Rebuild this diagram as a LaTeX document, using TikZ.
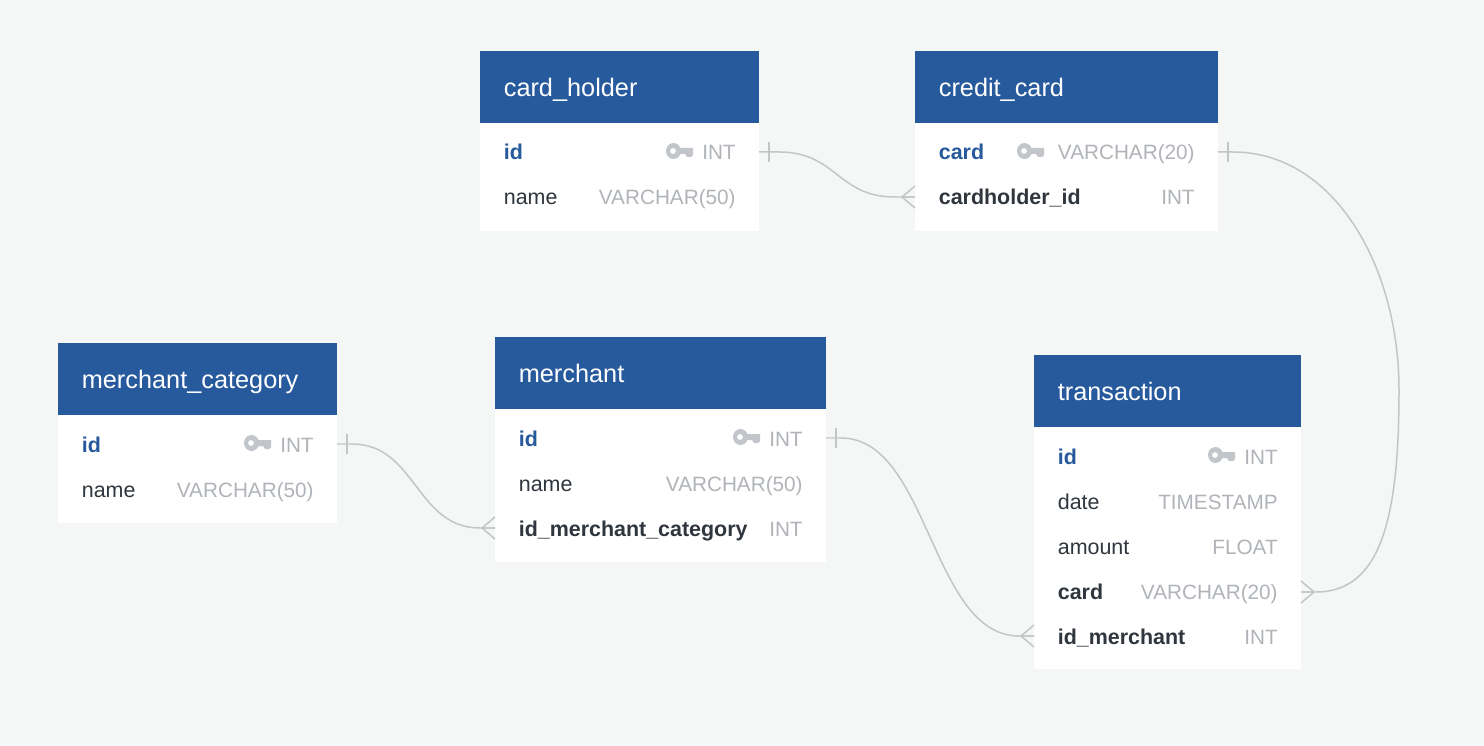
\documentclass[tikz,border=0pt]{standalone}
\usepackage{fontspec}
\setmainfont{Liberation Sans}
\usetikzlibrary{calc,positioning}
\definecolor{cBack}{RGB}{245,247,246}
\definecolor{cHead}{RGB}{38,90,156}
\definecolor{cName}{RGB}{47,54,61}
\definecolor{cType}{RGB}{176,180,185}
\definecolor{cKey}{RGB}{194,197,201}
\definecolor{cLine}{RGB}{196,198,198}
\tikzset{
  tablehead/.style={fill=cHead,anchor=north west,inner sep=0pt},
  tablebody/.style={fill=white,anchor=north west,inner sep=0pt},
  titletext/.style={text=white,anchor=base west,inner sep=0pt,font=\fontsize{14.4pt}{16pt}\selectfont},
  fieldkey/.style={text=cHead,anchor=base west,inner sep=0pt,font=\fontsize{12.2pt}{14pt}\selectfont\bfseries},
  fieldname/.style={text=cName,anchor=base west,inner sep=0pt,font=\fontsize{12.2pt}{14pt}\selectfont},
  fieldref/.style={fieldname,font=\fontsize{12.2pt}{14pt}\selectfont\bfseries},
  fieldtype/.style={text=cType,anchor=base east,inner sep=0pt,font=\fontsize{11.8pt}{14pt}\selectfont},
  relline/.style={cLine,line width=0.85pt},
}
% key icon, x = left end, y = centre
\newcommand{\keyicon}[2]{%
  \begin{scope}[shift={(#1,#2)}]
    \fill[cKey,even odd rule] (7.5,-1) ellipse (7.5 and 8) (7,-1) circle (3);
    \fill[cKey] (13,-4) -- (27,-4) -- (27,3) -- (25,5) -- (21,5) -- (19,2) -- (13,2) -- cycle;
  \end{scope}}
% one end of a relation
\newcommand{\onebar}[1]{\draw[relline] ($(#1)+(10,-10)$) -- ($(#1)+(10,10)$);}
\newcommand{\crowleft}[1]{\draw[relline] ($(#1)+(0,-11)$) -- ($(#1)+(-13,0)$) -- ($(#1)+(0,11)$) ($(#1)+(-13,0)$) -- (#1);}
\newcommand{\crowright}[1]{\draw[relline] ($(#1)+(0,-11)$) -- ($(#1)+(13,0)$) -- ($(#1)+(0,11)$) ($(#1)+(13,0)$) -- (#1);}

\begin{document}
\begin{tikzpicture}[x=0.02cm,y=-0.02cm]
  \fill[cBack] (0,0) rectangle (1484,746);
  % card_holder
  \node[tablebody,minimum width=5.58cm,minimum height=3.6cm] (holderBody) at (480,51) {};
  \node[tablehead,minimum width=5.58cm,minimum height=1.44cm] (holderHead) at (480,51) {};
  \node[titletext] (holderTitle) at (503.5,96.5) {card\_holder};
  \node[fieldkey] (holderId) at (503.5,160) {id};
  \node[fieldtype] (holderIdType) at (736,160) {INT};
  \keyicon{666}{152}
  \node[fieldname] (holderName) at (503.5,205) {name};
  \node[fieldtype] (holderNameType) at (736,205) {VARCHAR(50)};
  \coordinate (holderIdEnd) at (759,152);
  % credit_card
  \node[tablebody,minimum width=6.06cm,minimum height=3.6cm] (cardBody) at (915,51) {};
  \node[tablehead,minimum width=6.06cm,minimum height=1.44cm] (cardHead) at (915,51) {};
  \node[titletext] (cardTitle) at (938.5,96.5) {credit\_card};
  \node[fieldkey] (cardCard) at (938.5,160) {card};
  \node[fieldtype] (cardCardType) at (1195,160) {VARCHAR(20)};
  \keyicon{1017}{152}
  \node[fieldref] (cardHolder) at (938.5,205) {cardholder\_id};
  \node[fieldtype] (cardHolderType) at (1195,205) {INT};
  \coordinate (cardCardEnd) at (1218,152);
  \coordinate (cardHolderEnd) at (915,197);
  % merchant_category
  \node[tablebody,minimum width=5.58cm,minimum height=3.6cm] (categoryBody) at (58,343) {};
  \node[tablehead,minimum width=5.58cm,minimum height=1.44cm] (categoryHead) at (58,343) {};
  \node[titletext] (categoryTitle) at (81.5,388.5) {merchant\_category};
  \node[fieldkey] (categoryId) at (81.5,452) {id};
  \node[fieldtype] (categoryIdType) at (314,452) {INT};
  \keyicon{244}{444}
  \node[fieldname] (categoryName) at (81.5,497) {name};
  \node[fieldtype] (categoryNameType) at (314,497) {VARCHAR(50)};
  \coordinate (categoryIdEnd) at (337,444);
  % merchant
  \node[tablebody,minimum width=6.62cm,minimum height=4.5cm] (merchantBody) at (495,337) {};
  \node[tablehead,minimum width=6.62cm,minimum height=1.44cm] (merchantHead) at (495,337) {};
  \node[titletext] (merchantTitle) at (518.5,382.5) {merchant};
  \node[fieldkey] (merchantId) at (518.5,446) {id};
  \node[fieldtype] (merchantIdType) at (803,446) {INT};
  \keyicon{733}{438}
  \node[fieldname] (merchantName) at (518.5,491) {name};
  \node[fieldtype] (merchantNameType) at (803,491) {VARCHAR(50)};
  \node[fieldref] (merchantCategory) at (518.5,536) {id\_merchant\_category};
  \node[fieldtype] (merchantCategoryType) at (803,536) {INT};
  \coordinate (merchantIdEnd) at (826,438);
  \coordinate (merchantCategoryEnd) at (495,528);
  % transaction
  \node[tablebody,minimum width=5.34cm,minimum height=6.28cm] (transBody) at (1034,355) {};
  \node[tablehead,minimum width=5.34cm,minimum height=1.44cm] (transHead) at (1034,355) {};
  \node[titletext] (transTitle) at (1057.5,400.5) {transaction};
  \node[fieldkey] (transId) at (1057.5,464) {id};
  \node[fieldtype] (transIdType) at (1278,464) {INT};
  \keyicon{1208}{456}
  \node[fieldname] (transDate) at (1057.5,509) {date};
  \node[fieldtype] (transDateType) at (1278,509) {TIMESTAMP};
  \node[fieldname] (transAmount) at (1057.5,554) {amount};
  \node[fieldtype] (transAmountType) at (1278,554) {FLOAT};
  \node[fieldref] (transCard) at (1057.5,599) {card};
  \node[fieldtype] (transCardType) at (1278,599) {VARCHAR(20)};
  \node[fieldref] (transMerchant) at (1057.5,644) {id\_merchant};
  \node[fieldtype] (transMerchantType) at (1278,644) {INT};
  \coordinate (transCardEnd) at (1301,592);
  \coordinate (transMerchantEnd) at (1034,636);
  % relations
  \draw[relline] (holderIdEnd) -- ++(20,0) .. controls +(58,0) and +(-58,0) .. ($(cardHolderEnd)+(-20,0)$) -- (cardHolderEnd);
  \draw[relline] (categoryIdEnd) -- ++(15,0) .. controls +(64,0) and +(-64,0) .. ($(merchantCategoryEnd)+(-15,0)$) -- (merchantCategoryEnd);
  \draw[relline] (merchantIdEnd) -- ++(15,0) .. controls +(88,0) and +(-88,0) .. ($(transMerchantEnd)+(-15,0)$) -- (transMerchantEnd);
  \draw[relline] (cardCardEnd) -- ++(15,0) .. controls +(100,0) and (1399,265) .. (1399,390) .. controls (1399,515) and (1382,592) .. ($(transCardEnd)+(15,0)$) -- (transCardEnd);
  \onebar{holderIdEnd}
  \onebar{cardCardEnd}
  \onebar{categoryIdEnd}
  \onebar{merchantIdEnd}
  \crowleft{cardHolderEnd}
  \crowleft{merchantCategoryEnd}
  \crowleft{transMerchantEnd}
  \crowright{transCardEnd}
\end{tikzpicture}
\end{document}
